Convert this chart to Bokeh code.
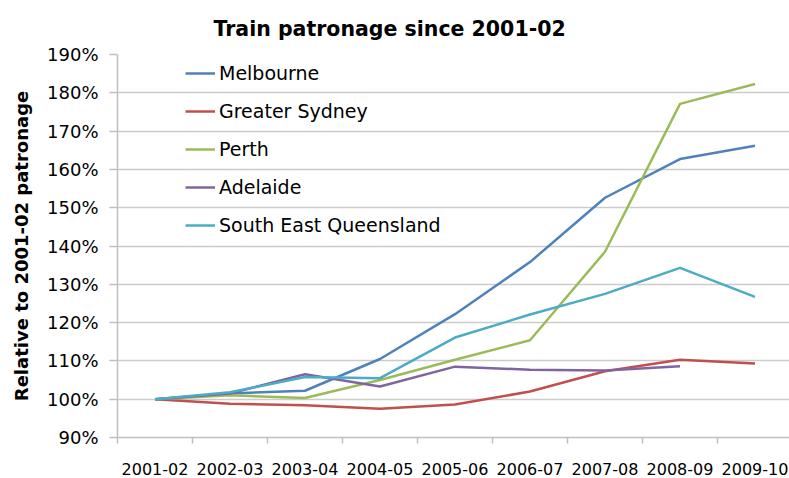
from bokeh.plotting import figure
from bokeh.models import (FixedTicker, PrintfTickFormatter, Legend, LegendItem, Range1d)
from bokeh.embed import file_html
from bokeh.resources import INLINE
import numpy as np

categories = ["2001-02", "2002-03", "2003-04", "2004-05", "2005-06",
              "2006-07", "2007-08", "2008-09", "2009-10"]
melbourne = [100, 101.5, 102.2, 110.5, 122.2, 135.8, 152.6, 162.7, 166.2]
sydney = [100, 98.8, 98.4, 97.5, 98.6, 102.0, 107.3, 110.3, 109.3]
perth = [100, 101.0, 100.3, 105.0, 110.3, 115.4, 138.5, 177.1, 182.3]
adelaide = [100, 101.5, 106.5, 103.3, 108.5, 107.7, 107.5, 108.6, np.nan]
seq = [100, 101.8, 105.8, 105.5, 116.1, 122.1, 127.5, 134.3, 126.7]
y_ticks = [90, 100, 110, 120, 130, 140, 150, 160, 170, 180, 190]

series = [
    ("Melbourne", melbourne, "#4F81BD"),
    ("Greater Sydney", sydney, "#C0504D"),
    ("Perth", perth, "#9BBB59"),
    ("Adelaide", adelaide, "#8064A2"),
    ("South East Queensland", seq, "#4BACC6"),
]

xs = list(range(len(categories)))

p = figure(width=789, height=478, output_backend="svg", toolbar_location=None,
           title="Train patronage since 2001-02",
           x_range=Range1d(-0.5, -0.5 + 672 / 75), y_range=Range1d(90, 190),
           min_border_left=117, min_border_right=0, min_border_top=54,
           min_border_bottom=41)
p.outline_line_color = None
p.background_fill_color = "white"

p.title.text_font = "DejaVu Sans"
p.title.text_font_size = "20.5px"
p.title.text_font_style = "bold"
p.title.text_color = "black"
p.title.align = "left"
p.title.offset = 96
p.title.standoff = 28

renderers = []
for name, vals, col in series:
    r = p.line(xs, vals, line_color=col, line_width=2.5)
    renderers.append((name, r))

# x axis
xa = p.xaxis[0]
xa.ticker = FixedTicker(ticks=xs, minor_ticks=[i - 0.5 for i in range(len(categories) + 1)])
xa.major_label_overrides = {i: c for i, c in enumerate(categories)}
xa.major_tick_line_color = None
xa.major_tick_out = 0
xa.major_tick_in = 0
xa.minor_tick_out = 6
xa.minor_tick_in = 0
xa.minor_tick_line_color = "#c0c0c0"
xa.minor_tick_line_width = 1.5
xa.axis_line_color = "#c0c0c0"
xa.axis_line_width = 1.5
xa.major_label_text_font = "DejaVu Sans"
xa.major_label_text_font_size = "16px"
xa.major_label_text_color = "black"
xa.major_label_standoff = 19

# y axis
ya = p.yaxis[0]
ya.ticker = FixedTicker(ticks=y_ticks)
ya.formatter = PrintfTickFormatter(format="%d%%")
ya.minor_tick_line_color = None
ya.major_tick_out = 8
ya.major_tick_in = 0
ya.major_tick_line_color = "#c0c0c0"
ya.major_tick_line_width = 1.5
ya.axis_line_color = "#c0c0c0"
ya.axis_line_width = 1.5
ya.major_label_text_font = "DejaVu Sans"
ya.major_label_text_font_size = "18px"
ya.major_label_text_color = "black"
ya.major_label_standoff = 11
ya.axis_label = "Relative to 2001-02 patronage"
ya.axis_label_text_font = "DejaVu Sans"
ya.axis_label_text_font_size = "18px"
ya.axis_label_text_font_style = "bold"
ya.axis_label_text_color = "black"
ya.axis_label_standoff = 12

p.xgrid.grid_line_color = None
p.ygrid.grid_line_color = "#cccccc"
p.ygrid.grid_line_width = 1.5

legend = Legend(items=[LegendItem(label=n, renderers=[r]) for n, r in renderers],
                location=(68, 197), orientation="vertical",
                glyph_width=30, glyph_height=30, label_height=30, spacing=8,
                label_standoff=4, padding=0, margin=0,
                border_line_color=None, background_fill_alpha=0,
                label_text_font="DejaVu Sans", label_text_font_size="19px",
                label_text_color="black")
p.add_layout(legend)

open("out.html", "w").write(file_html(p, INLINE))
